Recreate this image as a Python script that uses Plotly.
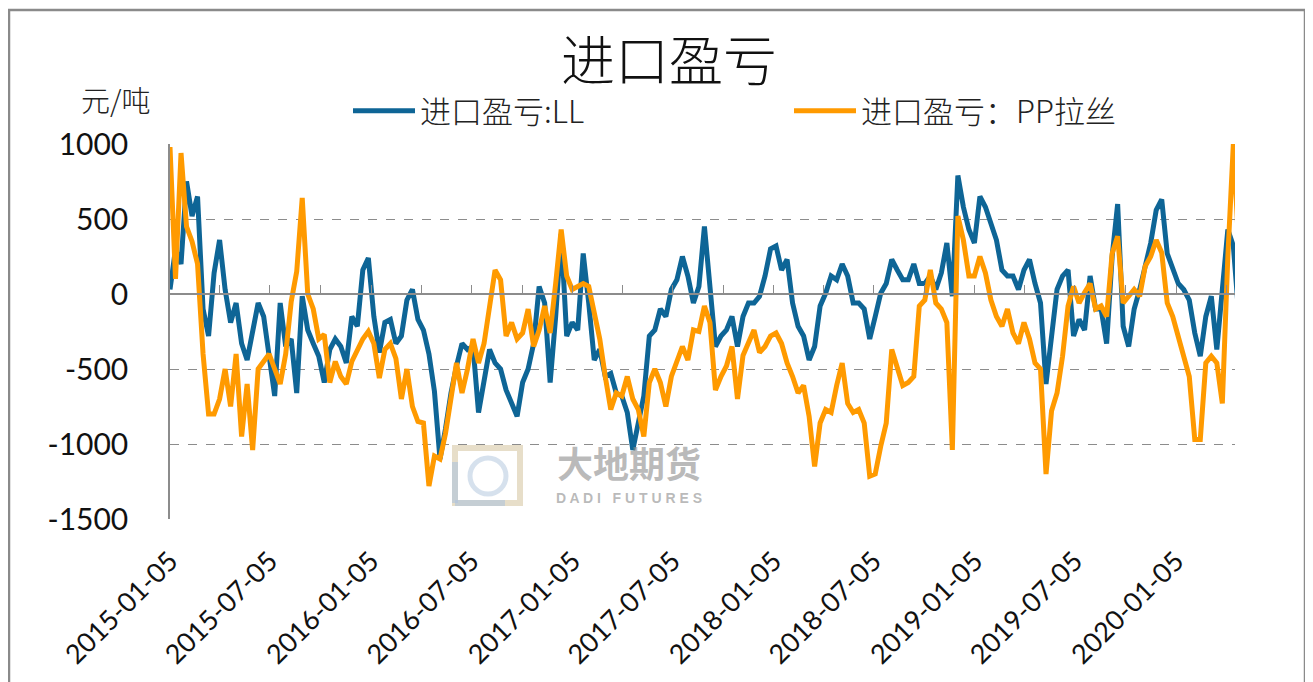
import pandas as pd
import plotly.graph_objects as go

# ---- data ----
dates = pd.date_range("2015-01-05", periods=195, freq="10D")

ll = [30, 300, 200, 750, 520, 650, -100, -280, 140, 360,
      30, -190, -60, -330, -440, -240, -60, -150, -415, -680,
      -60, -350, -300, -660, -15, -240, -330, -415, -590, -370,
      -300, -350, -460, -150, -215, 160, 240, -150, -390, -190,
      -170, -330, -280, -40, 30, -170, -240, -400, -650, -1100,
      -900, -660, -480, -330, -370, -350, -790, -590, -370, -460,
      -500, -640, -730, -815, -590, -500, -330, 50, -60, -590,
      -150, 400, -280, -190, -240, 270, -60, -440, -370, -550,
      -530, -660, -680, -790, -1040, -860, -680, -280, -240, -100,
      -150, 30, 95, 250, 120, -60, 50, 450, 50, -350,
      -280, -240, -150, -350, -150, -60, -60, -15, 120, 300,
      320, 160, 230, -60, -215, -280, -440, -350, -80, 5,
      120, 95, 200, 120, -60, -60, -100, -300, -150, 5,
      70, 230, 160, 95, 95, 200, 70, 70, 120, 30,
      140, 340, -15, 790, 580, 430, 340, 650, 580, 470,
      360, 160, 120, 120, 30, 160, 230, 70, -60, -600,
      -300, 30, 120, 160, -280, -170, -240, 120, -100, -100,
      -330, 250, 600, -215, -350, -100, 30, 200, 340, 560,
      630, 270, 180, 70, 30, -40, -260, -415, -150, -15,
      -370, 70, 430, 320, -150]

pp = [980, 100, 940, 450, 350, 200, -400, -800, -800, -700,
      -500, -750, -400, -950, -600, -1040, -500, -450, -400, -500,
      -600, -400, -50, 150, 640, 0, -100, -300, -270, -590,
      -450, -550, -600, -450, -380, -300, -250, -330, -560, -370,
      -330, -430, -700, -500, -750, -850, -860, -1280, -1080, -1100,
      -930, -680, -460, -660, -500, -300, -460, -330, -60, 160,
      95, -280, -190, -300, -260, -100, -350, -240, -80, -260,
      70, 430, 120, 30, 50, 70, 50, -130, -300, -550,
      -770, -660, -680, -550, -700, -770, -950, -590, -500, -590,
      -750, -550, -440, -350, -440, -240, -250, -80, -190, -640,
      -550, -480, -350, -700, -410, -330, -240, -390, -350, -280,
      -260, -330, -460, -550, -660, -610, -815, -1150, -860, -770,
      -790, -610, -460, -730, -790, -770, -860, -1215, -1200, -1015,
      -860, -370, -500, -610, -590, -550, -80, -40, 160, -60,
      -100, -190, -1040, 520, 360, 120, 120, 250, 140, -40,
      -150, -215, -100, -260, -330, -190, -300, -460, -500, -1200,
      -780, -660, -415, -80, 50, -60, 10, 70, -100, -80,
      -150, 270, 385, -60, -15, 30, -15, 185, 250, 360,
      275, -60, -150, -280, -390, -550, -970, -970, -460, -415,
      -460, -730, 250, 1000, 300]

series_names = ["进口盈亏:LL", "进口盈亏：PP拉丝"]
y_ticks = [1000, 500, 0, -500, -1000, -1500]
y_tick_text = ["1000", "500", "0", "-500", "-1000", "-1500"]

BLUE = "#0E6596"
ORANGE = "#FF9A00"
GRID = "#8C8C8C"
CJK = "Noto Sans CJK SC"
LAT = "Lato, Open Sans, sans-serif"

# the page body adds an 8px offset; the figure is sized to fill the rest
OFF = 8
W, H = 1313 - OFF, 682 - OFF
L, T = 170 - OFF, 144 - OFF
PW, PH = 1065, 375
R, B = W - L - PW, H - T - PH


def px(xs):
    """screen x (reference pixels) -> paper fraction"""
    return (xs - OFF - L) / PW


def py(ys):
    """screen y (reference pixels) -> paper fraction"""
    return (T + PH - (ys - OFF)) / PH


fig = go.Figure()
fig.add_trace(go.Scatter(x=dates, y=ll, mode="lines", name=series_names[0],
                         line=dict(color=BLUE, width=5)))
fig.add_trace(go.Scatter(x=dates, y=pp, mode="lines", name=series_names[1],
                         line=dict(color=ORANGE, width=5)))

x_range = ["2015-01-05", "2020-04-21"]

fig.update_layout(
    width=W, height=H,
    margin=dict(l=L, r=R, t=T, b=B, autoexpand=False),
    paper_bgcolor="white", plot_bgcolor="white",
    title=dict(text="进口盈亏", x=(669 - OFF) / W, xanchor="center",
               y=1 - (62 - OFF) / H, yanchor="middle",
               font=dict(family=CJK, size=54, color="#111", weight=300)),
    showlegend=True,
    legend=dict(orientation="h", xref="container", yref="container",
                x=(348 - OFF) / W, xanchor="left",
                y=1 - (111 - OFF) / H, yanchor="middle",
                entrywidth=364, entrywidthmode="pixels", itemwidth=62,
                font=dict(family=CJK, size=31, color="#222", weight=300),
                bgcolor="rgba(0,0,0,0)", traceorder="normal"),
    xaxis=dict(type="date", range=x_range, tick0="2015-01-05", dtick="M6",
               tickformat="%Y-%m-%d", tickangle=-45, showgrid=False,
               showline=False, zeroline=False, ticks="",
               ticklabelstandoff=20,
               tickfont=dict(family=LAT, size=27, color="#111")),
    xaxis2=dict(type="date", range=x_range, tick0="2015-01-05", dtick="M3",
                overlaying="x", anchor="free", position=0.6, side="bottom",
                showline=True, linecolor="#8C8C8C", linewidth=1.5,
                ticks="inside", ticklen=8, tickcolor="#8C8C8C", tickwidth=1.2,
                showticklabels=False, showgrid=False, zeroline=False),
    yaxis=dict(range=[-1500, 1000], tickvals=y_ticks, ticktext=y_tick_text,
               showgrid=True, gridcolor=GRID, griddash="dash", gridwidth=1,
               zeroline=False, showline=True, linecolor="#8C8C8C",
               linewidth=1.5, ticks="", ticklabelstandoff=34,
               tickfont=dict(family=LAT, size=30, color="#111")),
)

# invisible trace so the overlay axis (zero line with ticks) is drawn
fig.add_trace(go.Scatter(x=[dates[0]], y=[0], xaxis="x2", mode="markers",
                         marker=dict(opacity=0), showlegend=False,
                         hoverinfo="skip"))

# unit label
fig.add_annotation(text="元/吨", xref="paper", yref="paper",
                   x=px(115), y=py(99), xanchor="center", yanchor="middle",
                   showarrow=False,
                   font=dict(family=CJK, size=29, color="#222", weight=300))

# watermark (logo + text)
fig.add_shape(type="rect", xref="paper", yref="paper",
              x0=px(455), x1=px(520), y0=py(503), y1=py(448),
              line=dict(color="rgba(215,200,165,0.6)", width=6),
              fillcolor="rgba(0,0,0,0)", layer="below")
fig.add_shape(type="line", xref="paper", yref="paper",
              x0=px(455), x1=px(455), y0=py(503), y1=py(462),
              line=dict(color="rgba(175,195,220,0.6)", width=6), layer="below")
fig.add_shape(type="line", xref="paper", yref="paper",
              x0=px(455), x1=px(505), y0=py(503), y1=py(503),
              line=dict(color="rgba(175,195,220,0.6)", width=6), layer="below")
fig.add_shape(type="circle", xref="paper", yref="paper",
              x0=px(470), x1=px(506), y0=py(494), y1=py(458),
              line=dict(color="rgba(180,200,222,0.55)", width=5), layer="below")
fig.add_annotation(text="<b>大地期货</b>", xref="paper", yref="paper",
                   x=px(629), y=py(462), xanchor="center", yanchor="middle",
                   showarrow=False,
                   font=dict(family=CJK, size=36, color="rgba(140,140,140,0.6)"))
fig.add_annotation(text="<b>D A D I   F U T U R E S</b>", xref="paper",
                   yref="paper", x=px(629), y=py(498),
                   xanchor="center", yanchor="middle", showarrow=False,
                   font=dict(family="Liberation Sans", size=14,
                             color="rgba(140,140,140,0.6)"))

# outer frame
fig.add_shape(type="rect", xref="paper", yref="paper",
              x0=px(9), x1=px(1305), y0=py(700), y1=py(10),
              line=dict(color="#8A8A8A", width=2.5), layer="below")

fig.write_html("out.html")
